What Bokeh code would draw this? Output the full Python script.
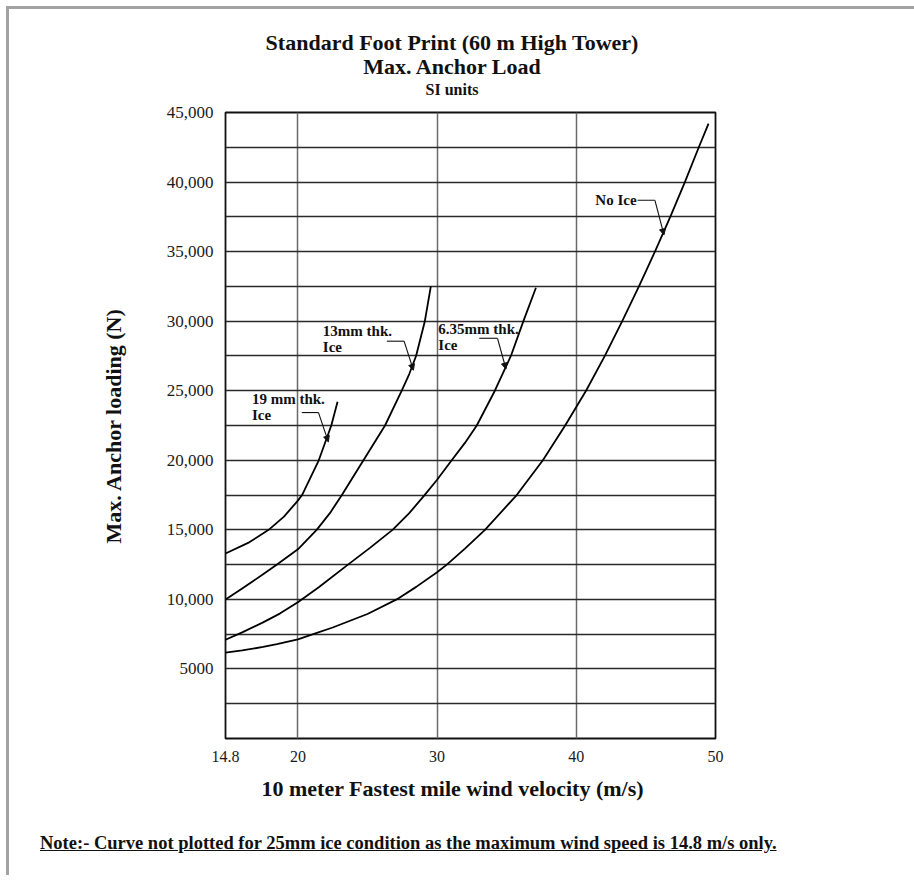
from bokeh.plotting import figure
from bokeh.models import Range1d, FixedTicker, Label, Arrow, NormalHead, Title, Div
from bokeh.layouts import column
from bokeh.embed import file_html
from bokeh.resources import INLINE

# ---------------- data ----------------
no_ice_x = [14.8, 16.0, 17.5, 18.5, 20.0, 21.1, 22.5, 25.0, 27.1, 28.5, 30.0, 30.7, 32.0, 33.44,
            35.72, 37.6, 39.2, 40.7, 42.05, 43.3, 44.5, 45.65, 46.75, 47.8, 48.8, 49.5]
no_ice_y = [6180, 6330, 6580, 6780, 7120, 7500, 7980, 8950, 10000, 10900, 11950, 12500, 13650, 15000,
            17500, 20000, 22500, 25000, 27500, 30000, 32500, 35000, 37500, 40000, 42500, 44200]

ice635_x = [14.8, 16.0, 17.5, 18.7, 20.0, 21.5, 23.6, 25.2, 26.8, 28.0, 29.1, 30.0, 31.05, 32.0,
            32.85, 34.15, 35.3, 36.2, 37.1]
ice635_y = [7100, 7630, 8350, 8980, 9800, 10870, 12500, 13720, 15000, 16200, 17500, 18600, 20000, 21250,
            22500, 25000, 27500, 30000, 32400]

ice13_x = [14.8, 16.0, 17.5, 18.5, 20.0, 21.35, 22.3, 23.16, 24.71, 26.26, 27.46, 28.0, 28.49, 29.12, 29.55]
ice13_y = [10000, 10780, 11800, 12500, 13600, 15000, 16200, 17500, 20000, 22500, 25000, 26200, 27500, 30000, 32500]

ice19_x = [14.8, 16.5, 17.9, 19.0, 20.0, 20.3, 21.5, 22.4, 22.85]
ice19_y = [13300, 14100, 15000, 15950, 17100, 17500, 20000, 22500, 24200]

x_ticks = [14.8, 20, 30, 40, 50]
x_tick_labels = ["14.8", "20", "30", "40", "50"]
y_ticks = [5000, 10000, 15000, 20000, 25000, 30000, 35000, 40000, 45000]
y_tick_labels = ["5000", "10,000", "15,000", "20,000", "25,000", "30,000", "35,000", "40,000", "45,000"]
x_grid = [20, 30, 40]
y_grid = [2500 * i for i in range(1, 18)]

title_lines = ["Standard Foot Print (60 m High Tower)", "Max. Anchor Load", "SI units"]
x_label = "10 meter Fastest mile wind velocity (m/s)"
y_label = "Max. Anchor loading (N)"
note = "Note:- Curve not plotted for 25mm ice condition as the maximum wind speed is 14.8 m/s only."

# curve annotations: text lines, alignment, text anchor, leader elbow points (data units)
annotations = [
    (["No Ice"], "right", (44.33, 38690), [(44.4, 38690), (45.65, 38690), (46.3, 36200)]),
    (["6.35mm thk.", "Ice"], "left", (30.09, 29420), [(33.03, 28770), (34.34, 28770), (34.95, 26560)]),
    (["13mm thk.", "Ice"], "left", (21.79, 29280), [(26.39, 28560), (27.63, 28560), (28.3, 26470)]),
    (["19 mm thk.", "Ice"], "left", (16.70, 24410), [(20.28, 23430), (21.48, 23430), (22.19, 21320)]),
]

FONT = "Liberation Serif"
INK = "#111111"
W = 905

# ---------------- title block ----------------
title_html = (
    f'<div style="font-family:\'{FONT}\';font-weight:bold;color:{INK};text-align:center;'
    f'width:886px;padding-top:22px;">'
    f'<div style="font-size:22px;line-height:24px;">{title_lines[0]}</div>'
    f'<div style="font-size:22px;line-height:24px;">{title_lines[1]}</div>'
    f'<div style="font-size:16px;line-height:22px;">{title_lines[2]}</div></div>'
)
title_div = Div(text=title_html, width=W, height=91, margin=(0, 0, 0, 0))

# ---------------- chart ----------------
p = figure(width=W, height=715, output_backend="svg", toolbar_location=None,
           x_range=Range1d(14.8, 50), y_range=Range1d(0, 45000),
           min_border_left=216, min_border_right=199, min_border_top=12, min_border_bottom=77)
p.title = None
p.background_fill_color = "white"
p.border_fill_color = "white"
p.outline_line_color = INK
p.outline_line_width = 1.8

for ax in (p.xaxis[0], p.yaxis[0]):
    ax.axis_line_color = None
    ax.major_tick_line_color = None
    ax.minor_tick_line_color = None
    ax.major_tick_out = 0
    ax.major_tick_in = 0
    ax.minor_tick_out = 0
    ax.major_label_text_font = FONT
    ax.major_label_text_color = "#1a1a1a"
p.xaxis.ticker = FixedTicker(ticks=x_ticks)
p.xaxis.major_label_overrides = {t: s for t, s in zip(x_ticks, x_tick_labels)}
p.xaxis.major_label_text_font_size = "16px"
p.xaxis.major_label_standoff = 12
p.yaxis.ticker = FixedTicker(ticks=y_ticks)
p.yaxis.major_label_overrides = {t: s for t, s in zip(y_ticks, y_tick_labels)}
p.yaxis.major_label_text_font_size = "17px"
p.yaxis.major_label_standoff = 12
p.yaxis.axis_label = y_label
p.yaxis.axis_label_text_font = FONT
p.yaxis.axis_label_text_font_style = "bold"
p.yaxis.axis_label_text_font_size = "22px"
p.yaxis.axis_label_text_color = INK
p.yaxis.axis_label_standoff = 38

p.add_layout(Title(text=x_label, align="left", offset=36, standoff=18, text_font=FONT,
                   text_font_style="bold", text_font_size="22px", text_color=INK), "below")

p.xgrid.ticker = FixedTicker(ticks=x_grid)
p.xgrid.grid_line_color = "#6a6a6a"
p.xgrid.grid_line_width = 1.5
p.ygrid.ticker = FixedTicker(ticks=y_grid)
p.ygrid.grid_line_color = "#2a2a2a"
p.ygrid.grid_line_width = 1.3

for xs, ys in [(no_ice_x, no_ice_y), (ice635_x, ice635_y), (ice13_x, ice13_y), (ice19_x, ice19_y)]:
    p.line(xs, ys, line_color="black", line_width=1.8, line_join="round")

for lines, align, (tx, ty), pts in annotations:
    step = 1130  # line spacing in data units
    for i, s in enumerate(lines):
        p.add_layout(Label(x=tx, y=ty - i * step, text=s, text_font=FONT, text_font_style="bold",
                           text_font_size="15px", text_align=align, text_baseline="middle",
                           text_color=INK))
    (x0, y0), (x1, y1), (x2, y2) = pts
    p.add_layout(Arrow(x_start=x0, y_start=y0, x_end=x1, y_end=y1, end=None,
                       line_color=INK, line_width=1.1))
    p.add_layout(Arrow(x_start=x1, y_start=y1, x_end=x2, y_end=y2,
                       end=NormalHead(size=6, fill_color=INK, line_color=INK, line_width=1),
                       line_color=INK, line_width=1.1))

# ---------------- note ----------------
note_html = (
    f'<div style="font-family:\'{FONT}\';font-weight:bold;color:{INK};font-size:18.5px;'
    f'line-height:20px;padding-top:18px;padding-left:31px;white-space:nowrap;">'
    f'<u>{note}</u></div>'
)
note_div = Div(text=note_html, width=W, height=60, margin=(0, 0, 0, 0))

layout = column(title_div, p, note_div, spacing=0,
                styles={"border-left": "3px solid #a3a3a3", "border-top": "3px solid #a3a3a3",
                        "margin-left": "6px", "margin-top": "6px"})

open("out.html", "w").write(file_html(layout, INLINE))
